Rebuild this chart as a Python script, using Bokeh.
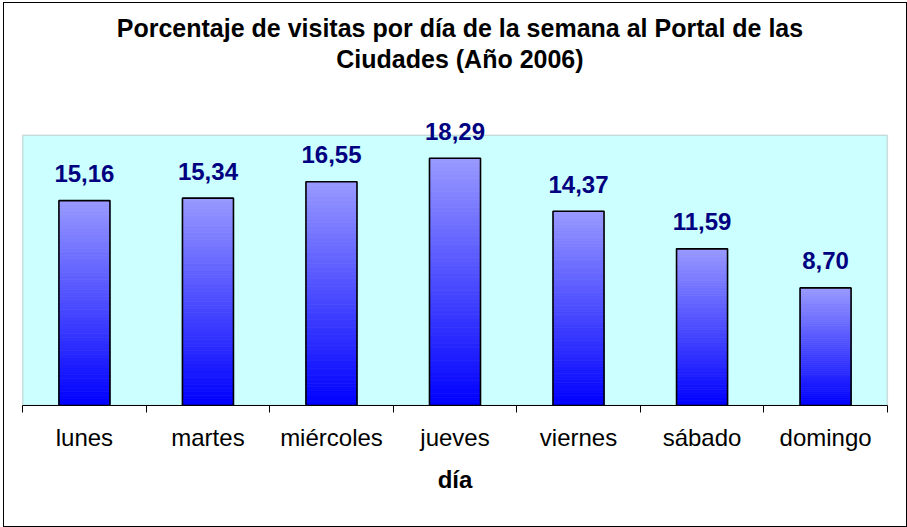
from bokeh.plotting import figure
from bokeh.models import Range1d, FixedTicker, LabelSet, Label, ColumnDataSource, BoxAnnotation
from bokeh.embed import file_html
from bokeh.resources import INLINE
from bokeh.core.properties import value

dias = ["lunes", "martes", "miércoles", "jueves", "viernes", "sábado", "domingo"]
porcentajes = [15.16, 15.34, 16.55, 18.29, 14.37, 11.59, 8.70]
etiquetas = ["15,16", "15,34", "16,55", "18,29", "14,37", "11,59", "8,70"]
titulo_1 = "Porcentaje de visitas por día de la semana al Portal de las"
titulo_2 = "Ciudades (Año 2006)"
eje_x = "día"
y_max = 20

FONT = "Liberation Sans"
W, H = 904, 525
BAR_W = 0.413
N = 60
top_rgb = (153, 153, 255)
bot_rgb = (0, 0, 255)

# layout geometry (page pixels)
CANVAS_TOP = 3
AREA_TOP, AREA_BOTTOM = 134, 403
px_per_y = (AREA_BOTTOM - AREA_TOP) / y_max
y_end = (AREA_BOTTOM - CANVAS_TOP) / px_per_y
X_PAD = 0.05

p = figure(width=W, height=H, output_backend="svg", toolbar_location=None,
           x_range=Range1d(-X_PAD, len(dias) + X_PAD), y_range=Range1d(0, y_end),
           min_border_left=12, min_border_right=15, min_border_top=0,
           min_border_bottom=123)
p.title.visible = False
p.margin = (2, 0, 0, 3)
p.styles = {"border": "1px solid black"}
p.background_fill_color = "white"
p.border_fill_color = "white"
p.outline_line_color = None
p.grid.visible = False
p.yaxis.visible = False

# plot area (cyan box)
p.add_layout(BoxAnnotation(left=0, right=len(dias), bottom=0, top=y_max,
                           fill_color="#CCFFFF", fill_alpha=1,
                           line_color="#8c8c8c", line_width=1.5, level="underlay"))

# title
for txt, py in ((titulo_1, 27), (titulo_2, 58)):
    p.add_layout(Label(x=len(dias) / 2 + 0.04, y=(AREA_BOTTOM - py) / px_per_y, text=txt,
                       text_align="center", text_baseline="middle",
                       text_font=FONT, text_font_size="25px",
                       text_font_style="bold", text_color="black"))

# gradient bars
L, R, B, T, C = [], [], [], [], []
for i, v in enumerate(porcentajes):
    cx = i + 0.5
    for k in range(N):
        t = (k + 0.5) / N
        rgb = tuple(int(round(bot_rgb[j] + (top_rgb[j] - bot_rgb[j]) * t)) for j in range(3))
        L.append(cx - BAR_W / 2)
        R.append(cx + BAR_W / 2)
        B.append(v * k / N)
        T.append(v * (k + 1) / N)
        C.append("#%02x%02x%02x" % rgb)
p.quad(left=L, right=R, bottom=B, top=T, fill_color=C, line_color=C, line_width=0.8)

src = ColumnDataSource(dict(x=[i + 0.5 for i in range(len(dias))], y=porcentajes, lab=etiquetas))
p.vbar(x="x", top="y", bottom=0, width=BAR_W, source=src, fill_color=None,
       line_color="black", line_width=1.6)
p.add_layout(LabelSet(x="x", y="y", text="lab", source=src, y_offset=27,
                      text_align="center", text_baseline="middle",
                      text_font=value(FONT), text_font_size="24px", text_font_style="bold",
                      text_color="#000080"))

ax = p.xaxis[0]
ax.bounds = (0, len(dias))
ax.ticker = FixedTicker(ticks=[i + 0.5 for i in range(len(dias))],
                        minor_ticks=list(range(len(dias) + 1)))
ax.major_label_overrides = {i + 0.5: d for i, d in enumerate(dias)}
ax.major_tick_line_color = None
ax.major_tick_out = 0
ax.major_tick_in = 0
ax.minor_tick_line_color = "black"
ax.minor_tick_out = 7
ax.minor_tick_in = 0
ax.axis_line_color = "black"
ax.major_label_text_font = FONT
ax.major_label_text_font_size = "24px"
ax.major_label_text_color = "black"
ax.major_label_standoff = 11
ax.axis_label = eje_x
ax.axis_label_text_font = FONT
ax.axis_label_text_font_size = "24px"
ax.axis_label_text_font_style = "bold"
ax.axis_label_text_color = "black"
ax.axis_label_standoff = 12

open("out.html", "w").write(file_html(p, INLINE))
